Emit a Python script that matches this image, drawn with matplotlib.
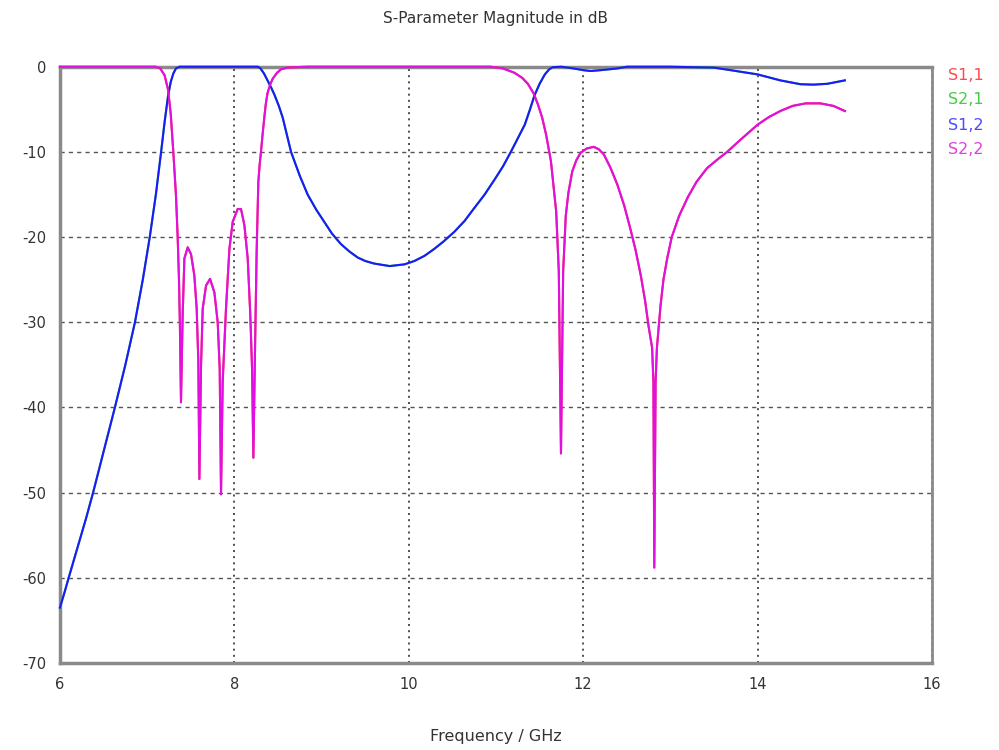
import matplotlib
matplotlib.use("Agg")
import matplotlib.pyplot as plt

plt.rcParams['font.family'] = ['DejaVu Sans']
plt.rcParams['axes.unicode_minus'] = False

# traced S-parameter data (GHz, dB)
freq_s12 = [6.0, 6.05, 6.1, 6.2, 6.3, 6.38, 6.5, 6.63, 6.75, 6.86, 6.95,
            7.03, 7.1, 7.16, 7.2, 7.24, 7.27, 7.30, 7.33, 7.37,
            8.0, 8.27, 8.30, 8.34, 8.38, 8.42, 8.46, 8.51, 8.555, 8.60, 8.65,
            8.75, 8.84, 8.94, 9.03, 9.12, 9.22, 9.32, 9.415, 9.5, 9.6, 9.78,
            9.95, 10.065, 10.18, 10.29, 10.4, 10.52, 10.64, 10.75, 10.87,
            10.98, 11.08, 11.17, 11.25, 11.33, 11.39, 11.44, 11.5, 11.56,
            11.61, 11.65, 11.75, 11.89, 12.0, 12.084, 12.2, 12.39, 12.5,
            13.0, 13.5, 13.69, 14.0, 14.26, 14.49, 14.64, 14.8, 15.0]
db_s12 = [-63.5, -61.8, -60, -56.5, -53, -50, -45.2, -40, -35, -30, -25,
          -20, -15, -10, -6.5, -3.4, -1.8, -0.8, -0.2, 0,
          0, 0, -0.2, -0.8, -1.6, -2.4, -3.3, -4.6, -6, -7.9, -10,
          -12.8, -15, -16.8, -18.2, -19.6, -20.8, -21.7, -22.4, -22.8, -23.1, -23.4,
          -23.2, -22.8, -22.2, -21.4, -20.5, -19.4, -18.1, -16.6, -15,
          -13.3, -11.7, -10, -8.4, -6.8, -5, -3.4, -2.0, -0.9,
          -0.3, -0.05, 0, -0.2, -0.4, -0.5, -0.4, -0.2, 0,
          0, -0.1, -0.4, -0.9, -1.6, -2.05, -2.1, -2.0, -1.6]

freq_s22 = [6.0, 7.10, 7.15, 7.20, 7.24, 7.27, 7.30, 7.33, 7.35, 7.365, 7.375,
            7.388, 7.407, 7.427, 7.465, 7.503, 7.541, 7.568, 7.587, 7.599,
            7.618, 7.637, 7.675, 7.721, 7.771, 7.809, 7.832, 7.847, 7.866,
            7.904, 7.943, 7.981, 8.038, 8.076, 8.115, 8.153, 8.183, 8.203,
            8.218, 8.237, 8.256, 8.275, 8.29, 8.306, 8.325, 8.344, 8.36, 8.38,
            8.41, 8.44, 8.49, 8.535, 8.61, 8.69, 8.84,
            10.94, 11.08, 11.21, 11.30, 11.365, 11.43, 11.48, 11.53, 11.575,
            11.63, 11.69, 11.72, 11.745, 11.77, 11.80, 11.83, 11.874, 11.92,
            11.97, 12.04, 12.12, 12.18, 12.237, 12.31, 12.39, 12.47, 12.54,
            12.60, 12.66, 12.71, 12.75, 12.79, 12.805, 12.815, 12.83, 12.845,
            12.887, 12.92, 12.963, 13.015, 13.1, 13.2, 13.3, 13.42, 13.55,
            13.65, 13.8, 14.0, 14.13, 14.26, 14.4, 14.55, 14.72, 14.87, 15.0]
db_s22 = [0, 0, -0.2, -1.0, -2.7, -5.5, -10, -15, -20, -25, -30,
          -39.4, -29.2, -22.5, -21.2, -22, -24.5, -28.4, -34.7, -48.4,
          -35, -28.4, -25.7, -24.9, -26.5, -30, -35.5, -50.2, -37,
          -28.4, -21.4, -18.2, -16.7, -16.7, -18.6, -22.5, -29.2, -35.5,
          -45.9, -33.1, -21.4, -13.5, -11.5, -9.9, -7.8, -5.9, -4.4, -3.1,
          -2.1, -1.4, -0.7, -0.3, -0.1, -0.05, 0,
          0, -0.2, -0.7, -1.3, -2.0, -3.1, -4.4, -6.0, -8,
          -11.1, -17, -24, -45.4, -24, -17.5, -14.8, -12.3, -11,
          -10.1, -9.6, -9.4, -9.7, -10.3, -11.8, -13.8, -16.3, -19,
          -21.5, -24.5, -27.5, -30.5, -33, -37, -58.8, -37, -33,
          -28, -25, -22.5, -20, -17.5, -15.3, -13.5, -11.9, -10.8,
          -10, -8.6, -6.8, -5.9, -5.2, -4.6, -4.3, -4.3, -4.6, -5.2]

# symmetric two-port: S1,1 = S2,2 and S2,1 = S1,2 (hidden underneath)
freq_s11, db_s11 = freq_s22, db_s22
freq_s21, db_s21 = freq_s12, db_s12

labels = ['S1,1', 'S2,1', 'S1,2', 'S2,2']
colors = ['#ff3c3c', '#3cc83c', '#1a1aff', '#e010e0']
text_colors = ['#ff4a4a', '#44cc44', '#4a4aff', '#e040e0']

x_ticks = [6, 8, 10, 12, 14, 16]
y_ticks = [0, -10, -20, -30, -40, -50, -60, -70]

fig = plt.figure(figsize=(9.99, 7.5), dpi=100)
ax = fig.add_axes([0.060, 0.116, 0.873, 0.795])

series = [(freq_s11, db_s11), (freq_s21, db_s21), (freq_s12, db_s12), (freq_s22, db_s22)]
for (f, d), c in zip(series, colors):
    ax.plot(f, d, color=c, lw=1.5, zorder=3, clip_on=False)

ax.set_xlim(6, 16)
ax.set_ylim(-70, 0)
ax.set_xticks(x_ticks)
ax.set_yticks(y_ticks)
ax.tick_params(length=0, labelsize=10.5, labelcolor='#333333', pad=10)

ax.yaxis.grid(True, linestyle=(0, (3, 3)), color='#555555', lw=1)
ax.xaxis.grid(True, linestyle=(0, (1.2, 2.5)), color='#333333', lw=1.2)
ax.set_axisbelow(True)

for side in ['left', 'bottom', 'top']:
    ax.spines[side].set_color('#8a8a8a')
    ax.spines[side].set_linewidth(2.5)
ax.spines['right'].set_color('#8a8a8a')
ax.spines['right'].set_linewidth(2)

fig.text(0.496, 0.976, 'S-Parameter Magnitude in dB', ha='center', va='center',
         fontsize=11, color='#333333')
fig.text(0.496, 0.018, 'Frequency / GHz', ha='center', va='center',
         fontsize=11.5, color='#333333')

for i, (lab, tc) in enumerate(zip(labels, text_colors)):
    fig.text(0.949, 1 - (75 + 25 * i) / 750, lab, ha='left', va='center',
             fontsize=11.5, color=tc)

fig.savefig('out.png', dpi=100)
